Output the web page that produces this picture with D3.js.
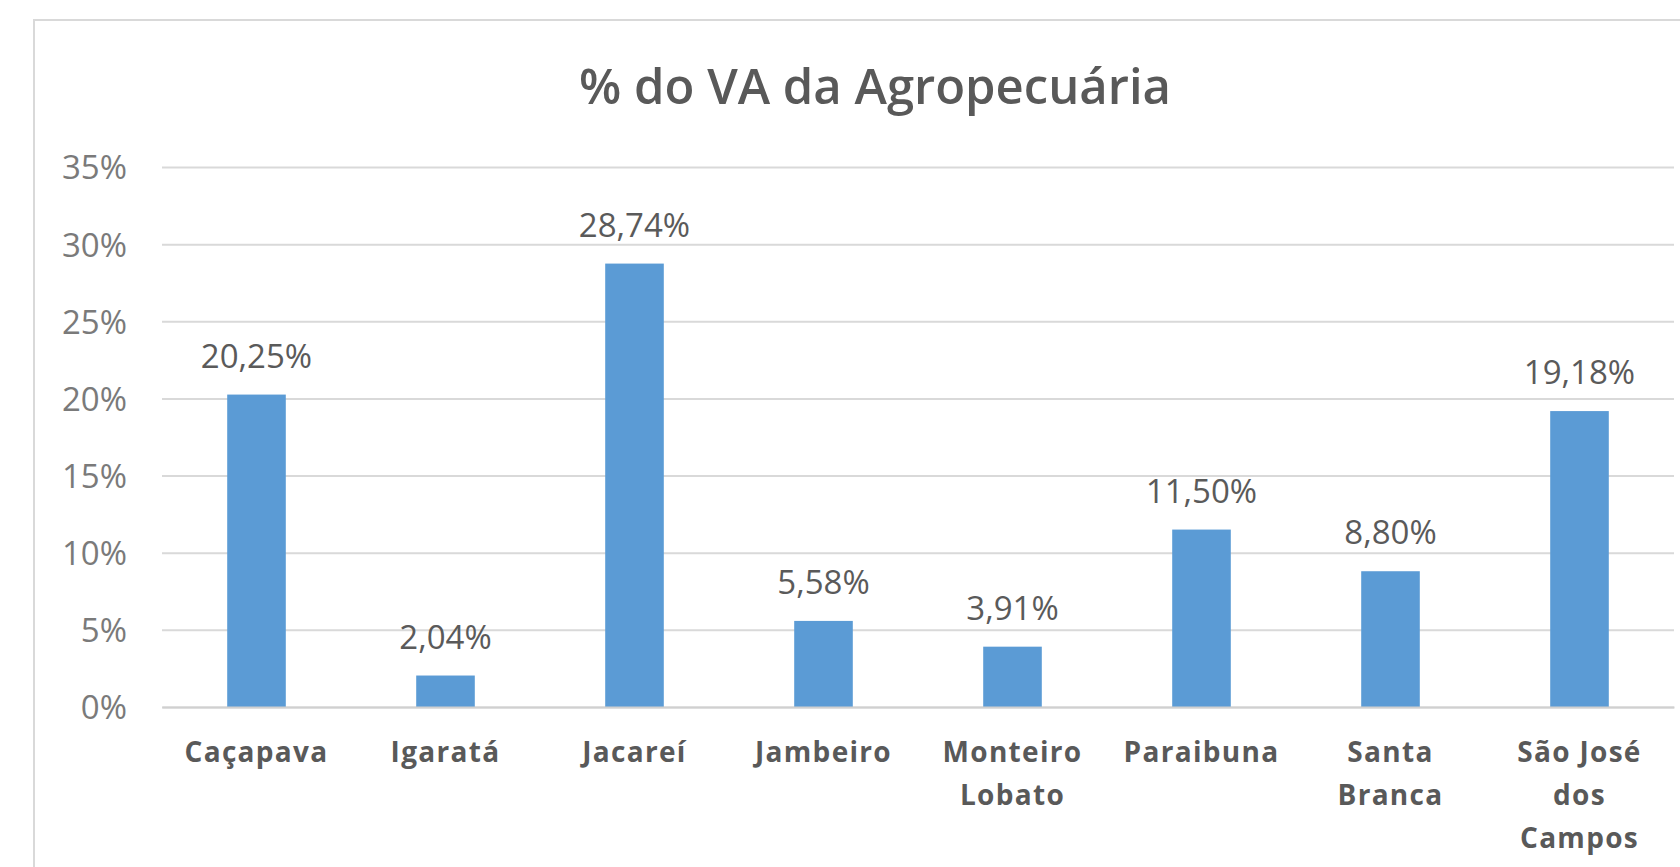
<!DOCTYPE html>
<html>
<head>
<meta charset="utf-8">
<script src="https://cdn.jsdelivr.net/npm/d3@7"></script>
<style>
  html, body { margin: 0; padding: 0; background: #ffffff; }
  svg { display: block; }
  text { font-family: "Open Sans", Lato, sans-serif; }
</style>
</head>
<body>
<svg id="chart" width="1680" height="867"></svg>
<script>
// Municipalities (line breaks mark wrapped axis labels)
const categories = [
  ["Caçapava"],
  ["Igaratá"],
  ["Jacareí"],
  ["Jambeiro"],
  ["Monteiro", "Lobato"],
  ["Paraibuna"],
  ["Santa", "Branca"],
  ["São José", "dos", "Campos"]
];
// Share of agricultural value added, in percent
const values = [20.25, 2.04, 28.74, 5.58, 3.91, 11.50, 8.80, 19.18];
// Value labels as printed
const valueLabels = ["20,25%", "2,04%", "28,74%", "5,58%", "3,91%", "11,50%", "8,80%", "19,18%"];
// Y axis ticks
const yTicks = [0, 5, 10, 15, 20, 25, 30, 35];
const title = "% do VA da Agropecuária";

const svg = d3.select("#chart");
const plot = { left: 162, right: 1674, top: 167, bottom: 707 };

// Chart frame
svg.append("rect")
  .attr("x", 34).attr("y", 20)
  .attr("width", 1700).attr("height", 900)
  .attr("fill", "#ffffff")
  .attr("stroke", "#d9d9d9")
  .attr("stroke-width", 2);

const names = categories.map(c => c.join(" "));
const x = d3.scaleBand()
  .domain(names)
  .range([plot.left, plot.right])
  .paddingInner(0.69)
  .paddingOuter(0.345);

const y = d3.scaleLinear()
  .domain([0, 35])
  .range([plot.bottom, plot.top]);

// Gridlines and tick labels
const yAxis = d3.axisLeft(y)
  .tickValues(yTicks)
  .tickFormat(d => d + "%")
  .tickSize(-(plot.right - plot.left))
  .tickPadding(35);

const gy = svg.append("g")
  .attr("transform", `translate(${plot.left},0)`)
  .call(yAxis);
gy.select(".domain").remove();
gy.selectAll(".tick line")
  .attr("stroke", "#d9d9d9")
  .attr("stroke-width", 2);
gy.selectAll(".tick text")
  .attr("fill", "#7a7a7a")
  .attr("font-size", 33)
  .attr("dy", "0.36em");

// Bars
svg.append("g").selectAll("rect")
  .data(values)
  .join("rect")
  .attr("x", (d, i) => x(names[i]))
  .attr("width", x.bandwidth())
  .attr("y", d => y(d))
  .attr("height", d => y(0) - y(d))
  .attr("fill", "#5b9bd5");

// Value labels
svg.append("g").selectAll("text")
  .data(values)
  .join("text")
  .attr("x", (d, i) => x(names[i]) + x.bandwidth() / 2)
  .attr("y", d => y(d) - 27)
  .attr("text-anchor", "middle")
  .attr("fill", "#5a5a5a")
  .attr("font-size", 33)
  .text((d, i) => valueLabels[i]);

// Category labels
const xAxis = d3.axisBottom(x).tickSize(0).tickFormat("");
const gx = svg.append("g")
  .attr("transform", `translate(0,${plot.bottom})`)
  .call(xAxis);
gx.select(".domain").attr("stroke", "#d0d0d0").attr("stroke-width", 2);
gx.selectAll(".tick").each(function(d, i) {
  const t = d3.select(this).append("text")
    .attr("text-anchor", "middle")
    .attr("fill", "#595959")
    .attr("font-size", 28)
    .attr("font-weight", "bold")
    .attr("letter-spacing", 1.3);
  categories[i].forEach((line, k) => {
    t.append("tspan").attr("x", 0).attr("y", 55 + k * 43).text(line);
  });
});

// Title
svg.append("text")
  .attr("x", 875)
  .attr("y", 104)
  .attr("text-anchor", "middle")
  .attr("fill", "#595959")
  .attr("font-size", 49)
  .attr("font-weight", 600)
  .text(title);
</script>
</body>
</html>
